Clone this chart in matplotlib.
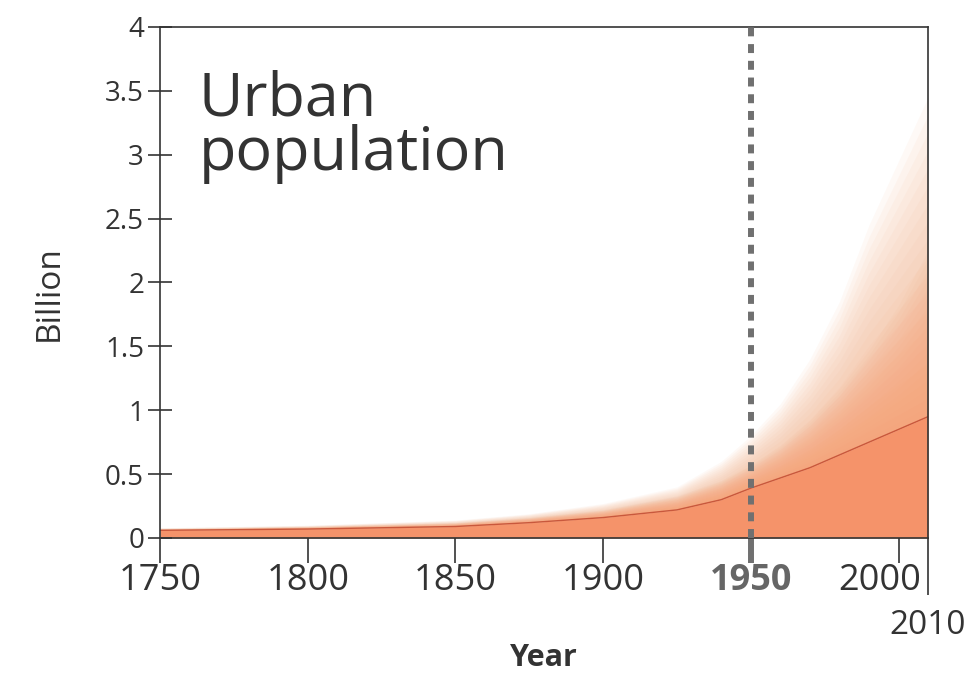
import numpy as np
import matplotlib.pyplot as plt
from matplotlib.transforms import ScaledTranslation

plt.rcParams['font.family'] = ['Open Sans', 'DejaVu Sans']

# Urban population (billion)
years = [1750, 1800, 1850, 1875, 1900, 1925, 1940, 1950, 1960, 1970, 1980, 1990, 2000, 2010]
urban_core = [0.06, 0.07, 0.09, 0.12, 0.16, 0.22, 0.30, 0.39, 0.47, 0.55, 0.65, 0.75, 0.85, 0.95]
urban_mid = [0.07, 0.09, 0.12, 0.16, 0.22, 0.33, 0.45, 0.57, 0.72, 0.92, 1.17, 1.47, 1.82, 2.25]
urban_upper = [0.08, 0.10, 0.14, 0.19, 0.27, 0.40, 0.60, 0.80, 1.05, 1.40, 1.85, 2.45, 2.95, 3.45]

x_ticks = [1750, 1800, 1850, 1900, 1950, 2000]
end_year = 2010
y_ticks = [0, 0.5, 1, 1.5, 2, 2.5, 3, 3.5, 4]
y_labels = ['0', '0.5', '1', '1.5', '2', '2.5', '3', '3.5', '4']

fig = plt.figure(figsize=(9.8, 6.81), dpi=100)
ax = fig.add_axes([0.1633, 0.21, 0.7837, 0.7504])

yr = np.array(years, dtype=float)
core = np.array(urban_core)
mid = np.array(urban_mid)
upper = np.array(urban_upper)

# soft, fuzzy bands above the core
n = 18
for k in range(n):
    f = 1 - k / n
    ax.fill_between(yr, core, core + (upper - core) * f, color='#f6b18a',
                    alpha=0.075, lw=0)
for k in range(n):
    f = 1 - k / n
    ax.fill_between(yr, core, core + (mid - core) * f, color='#f4a073',
                    alpha=0.06, lw=0)

# core area and its outline
ax.fill_between(yr, 0, core, color='#f5936a', lw=0)
ax.plot(yr, core, color='#c9583c', lw=1.0)

# 1950 marker
ax.axvline(1950, color='#707070', lw=4.3, linestyle=(0, (1.5, 1.3)), zorder=5)

ax.set_xlim(1750, end_year)
ax.set_ylim(0, 4)

ax.set_xticks(x_ticks)
ax.set_xticklabels([str(t) for t in x_ticks])
ax.set_xticks([end_year], minor=True)
ax.set_xticklabels([str(end_year)], minor=True)
ax.set_yticks(y_ticks)
ax.set_yticklabels(y_labels)

ax.tick_params(axis='y', direction='inout', length=17, width=1.2, pad=3,
               labelsize=20, colors='#333333')
ax.tick_params(axis='x', which='major', direction='out', length=18, width=1.2,
               pad=0, labelsize=26, colors='#333333')
ax.tick_params(axis='x', which='minor', direction='out', length=41, width=1.2,
               pad=10, labelsize=24, colors='#333333')

xt = ax.xaxis.get_major_ticks()
# 1950 tick: grey and bold
xt[4].tick1line.set_markeredgecolor('#707070')
xt[4].tick1line.set_markeredgewidth(4.3)
xt[4].label1.set_fontweight('bold')
xt[4].label1.set_color('#666666')
# 2000 label sits left of its tick, clear of the 2010 line
xt[5].label1.set_transform(xt[5].label1.get_transform()
                           + ScaledTranslation(-0.19, 0, fig.dpi_scale_trans))

for side in ['left', 'right', 'top', 'bottom']:
    ax.spines[side].set_linewidth(1.2)
    ax.spines[side].set_color('#333333')

ax.set_ylabel('Billion', fontsize=24, color='#333333')
ax.yaxis.set_label_coords(-0.123, 0.48)
ax.set_xlabel('Year', fontsize=22, fontweight='bold', color='#333333')
ax.xaxis.set_label_coords(0.5, -0.205)

ax.text(0.05, 0.917, 'Urban\npopulation', transform=ax.transAxes, fontsize=44,
        color='#333333', va='top', ha='left', linespacing=0.88)

plt.savefig('out.png', dpi=100)
